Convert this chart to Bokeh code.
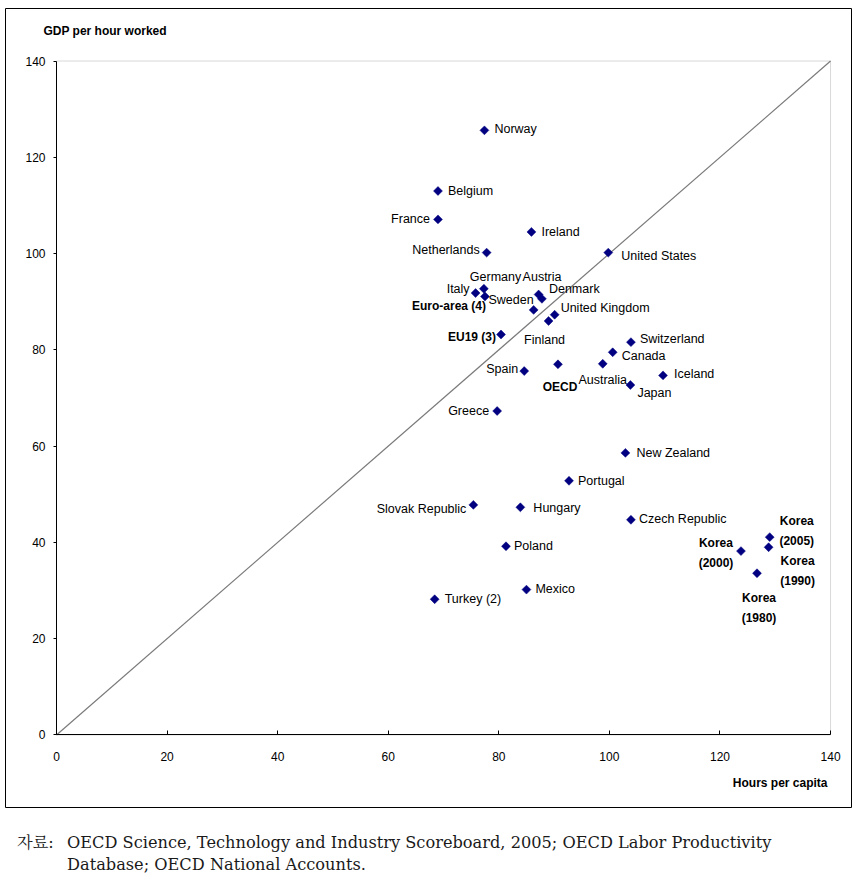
import numpy as np
from bokeh.plotting import figure
from bokeh.models import (ColumnDataSource, Range1d, FixedTicker, BoxAnnotation,
                          Label, Div)
from bokeh.layouts import column
from bokeh.core.properties import value
from bokeh.embed import file_html
from bokeh.resources import INLINE

# ---------------- data ----------------
countries = ["Norway", "Belgium", "France", "Ireland", "Netherlands", "United States",
             "Germany", "Austria", "Italy", "Euro-area (4)", "Sweden", "Denmark",
             "United Kingdom", "Finland", "EU19 (3)", "Switzerland", "Canada", "OECD",
             "Australia", "Spain", "Iceland", "Japan", "Greece", "New Zealand",
             "Portugal", "Slovak Republic", "Hungary", "Czech Republic", "Poland",
             "Mexico", "Turkey (2)", "Korea\n(2000)", "Korea\n(2005)", "Korea\n(1990)",
             "Korea\n(1980)"]
hours_per_capita = [77.4, 69.0, 69.0, 85.9, 77.8, 99.8,
                    77.3, 87.2, 75.8, 77.5, 86.3, 87.8,
                    90.1, 89.0, 80.4, 103.9, 100.6, 90.7,
                    98.8, 84.6, 109.7, 103.8, 79.7, 102.9,
                    92.7, 75.4, 83.9, 103.9, 81.3,
                    85.0, 68.4, 123.8, 129.0, 128.8,
                    126.7]
gdp_per_hour = [125.6, 113.0, 107.1, 104.5, 100.2, 100.2,
                92.7, 91.5, 91.8, 91.1, 88.3, 90.6,
                87.3, 86.0, 83.2, 81.6, 79.5, 77.0,
                77.1, 75.6, 74.7, 72.7, 67.3, 58.6,
                52.8, 47.8, 47.3, 44.7, 39.2,
                30.2, 28.2, 38.2, 41.1, 39.0,
                33.6]
diagonal = [0, 140]
x_ticks = [0, 20, 40, 60, 80, 100, 120, 140]
y_ticks = [0, 20, 40, 60, 80, 100, 120, 140]
x_title = "Hours per capita"
y_title = "GDP per hour worked"
source_line1 = "OECD Science, Technology and Industry Scoreboard, 2005; OECD Labor Productivity"
source_line2 = "Database; OECD National Accounts."

# label placement (screen pixel offsets from the marker; style only)
label_dx = [10, 10, -8, 10, -7, 13,
            -14, -16, -6, 1, 0, 7,
            6, -4, -5, 9, 9, 2,
            0, -6, 11, 7, -8, 11,
            9, -7, 13, 8, 8,
            9, 10, -25, 27, 29,
            2]
label_dy = [-1, 0, 0, 0, -3, 3,
            -12, -18, -4, 10, -10, -10,
            -7, 19, 3, -3, 4, 23,
            16, -2, -1, 8, 0, 0,
            0, 4, 1, -1, 0,
            -1, 0, 2, -6, 24,
            35]
label_align = ["left", "left", "right", "left", "right", "left",
               "left", "left", "right", "right", "right", "left",
               "left", "center", "right", "left", "left", "center",
               "center", "right", "left", "left", "right", "left",
               "left", "right", "left", "left", "left",
               "left", "left", "center", "center", "center",
               "center"]
bold_set = {"Euro-area (4)", "EU19 (3)", "OECD"}
label_style = ["bold" if (c in bold_set or c.startswith("Korea")) else "normal" for c in countries]
label_size = ["12px" if s == "bold" else "12.5px" for s in label_style]

src = ColumnDataSource(dict(x=hours_per_capita, y=gdp_per_hour, name=countries,
                            dx=label_dx, dy=label_dy, align=label_align,
                            style=label_style, fsize=label_size))

# ---------------- figure ----------------
p = figure(width=858, height=808,
           x_range=Range1d(-9.22, 143.79), y_range=Range1d(-15.27, 150.91),
           output_backend="svg", toolbar_location=None,
           min_border_left=5, min_border_right=7, min_border_top=8, min_border_bottom=0)
p.outline_line_color = "black"
p.outline_line_width = 1
p.background_fill_color = "white"
p.border_fill_color = "white"
p.grid.visible = False

FONT = "Liberation Sans"

# plot-area box (gray)
p.add_layout(BoxAnnotation(left=0, right=140, bottom=0, top=140, fill_alpha=0,
                           line_color="#808080", line_width=1, level="underlay"))

# axes at the data origin
xa = p.xaxis[0]
xa.fixed_location = 0
xa.bounds = (0, 140)
xa.ticker = FixedTicker(ticks=x_ticks)
xa.major_tick_in = 4
xa.major_tick_out = 0
xa.minor_tick_line_color = None
xa.axis_line_color = "black"
xa.major_tick_line_color = "black"
xa.major_label_standoff = 17
xa.major_label_text_font = FONT
xa.major_label_text_font_size = "12px"
xa.major_label_text_color = "black"

ya = p.yaxis[0]
ya.fixed_location = 0
ya.bounds = (0, 140)
ya.ticker = FixedTicker(ticks=y_ticks)
ya.major_tick_in = 0
ya.major_tick_out = 3
ya.minor_tick_line_color = None
ya.axis_line_color = "black"
ya.major_tick_line_color = "black"
ya.major_label_standoff = 8
ya.major_label_text_font = FONT
ya.major_label_text_font_size = "12px"
ya.major_label_text_color = "black"

# 45-degree reference line
p.line(diagonal, diagonal, line_color="#7a7a7a", line_width=1.2)

# markers
p.scatter("x", "y", source=src, marker="square", angle=np.pi / 4, size=6.3,
          fill_color="#000080", line_color="#000080", line_width=0.5)

# point labels
p.text("x", "y", text="name", source=src, x_offset="dx", y_offset="dy",
       text_align="align", text_baseline="middle", text_font=value(FONT),
       text_font_size="fsize", text_font_style="style", text_color="black",
       text_line_height=1.45)

# axis titles
p.add_layout(Label(x=-2.35, y=146.3, text=y_title, text_font=FONT,
                   text_font_size="12px", text_font_style="bold",
                   text_baseline="middle", text_align="left", text_color="black"))
p.add_layout(Label(x=139.45, y=-10.07, text=x_title, text_font=FONT,
                   text_font_size="12px", text_font_style="bold",
                   text_baseline="middle", text_align="right", text_color="black"))

# ---------------- source note ----------------
note_html = (
    '<div style="font-family:\'DejaVu Serif\',\'Noto Serif CJK KR\',\'Noto Sans CJK KR\',serif;'
    'font-size:16.2px;line-height:22px;color:#1a1a1a;white-space:nowrap;'
    'padding:24px 0 0 17px;margin:0;">'
    '<span style="display:inline-block;width:50px;">자료:</span>' + source_line1 + '<br>'
    '<span style="display:inline-block;width:50px;"></span>' + source_line2 +
    '</div>'
)
note = Div(text=note_html, width=858, height=79, margin=(0, 0, 0, 0))

layout = column(p, note, spacing=0)
open("out.html", "w").write(file_html(layout, INLINE))
